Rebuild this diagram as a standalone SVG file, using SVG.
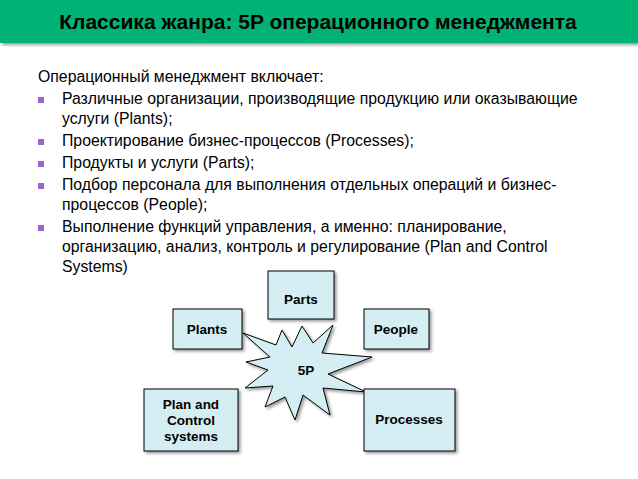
<svg xmlns="http://www.w3.org/2000/svg" width="638" height="479" viewBox="0 0 638 479">
<style>
text{font-family:"Liberation Sans",Arial,sans-serif}
.b{font-size:15.8px;fill:#000}
.sq{fill:#9966cc}
.n{fill:#d5eef4;stroke:#000;stroke-width:1}
.l{font-size:13.5px;font-weight:bold;text-anchor:middle}
</style>
<defs><filter id="sh" x="-20%" y="-20%" width="150%" height="150%"><feDropShadow dx="2" dy="2" stdDeviation="1.5" flood-opacity="0.4"/></filter></defs>
<rect width="638" height="479" fill="#fff"/>
<rect x="0" y="0" width="638" height="43" fill="#00b374" filter="url(#sh)"/>
<text x="318" y="29" text-anchor="middle" font-size="21" font-weight="bold">Классика жанра: 5P операционного менеджмента</text>
<text class="b" x="38" y="82">Операционный менеджмент включает:</text>
<rect class="sq" x="38" y="97" width="6" height="6"/>
<text class="b" x="62" y="104">Различные организации, производящие продукцию или оказывающие</text>
<text class="b" x="62" y="124">услуги (Plants);</text>
<rect class="sq" x="38" y="139" width="6" height="6"/>
<text class="b" x="62" y="146">Проектирование бизнес-процессов (Processes);</text>
<rect class="sq" x="38" y="161" width="6" height="6"/>
<text class="b" x="62" y="168">Продукты и услуги (Parts);</text>
<rect class="sq" x="38" y="183" width="6" height="6"/>
<text class="b" x="62" y="190">Подбор персонала для выполнения отдельных операций и бизнес-</text>
<text class="b" x="62" y="210">процессов (People);</text>
<rect class="sq" x="38" y="225" width="6" height="6"/>
<text class="b" x="62" y="232">Выполнение функций управления, а именно: планирование,</text>
<text class="b" x="62" y="252">организацию, анализ, контроль и регулирование (Plan and Control</text>
<text class="b" x="62" y="272">Systems)</text>
<g id="star"><polygon class="n" filter="url(#sh)" points="243,333 276,345 282,330 292,347 302,326 313,343 333,325 322,353 372,357 328,374 366,392 323,388 330,415 303,395 295,420 285,397 265,407 273,386 245,388 268,370 246,362 270,357"/><text class="l" x="306" y="375">5P</text></g>
<g id="parts"><rect class="n" filter="url(#sh)" x="268" y="271" width="66" height="48"/><text class="l" x="301" y="304">Parts</text></g>
<g id="plants"><rect class="n" filter="url(#sh)" x="173" y="309" width="69" height="40"/><text class="l" x="207" y="334">Plants</text></g>
<g id="people"><rect class="n" filter="url(#sh)" x="364" y="309" width="65" height="40"/><text class="l" x="396" y="334">People</text></g>
<g id="plan"><rect class="n" filter="url(#sh)" x="144" y="389" width="94" height="62"/><text class="l" x="191" y="409">Plan and</text><text class="l" x="191" y="425">Control</text><text class="l" x="191" y="441">systems</text></g>
<g id="processes"><rect class="n" filter="url(#sh)" x="364" y="389" width="91" height="62"/><text class="l" x="409" y="424">Processes</text></g>
<g id="connectors"/>
</svg>
